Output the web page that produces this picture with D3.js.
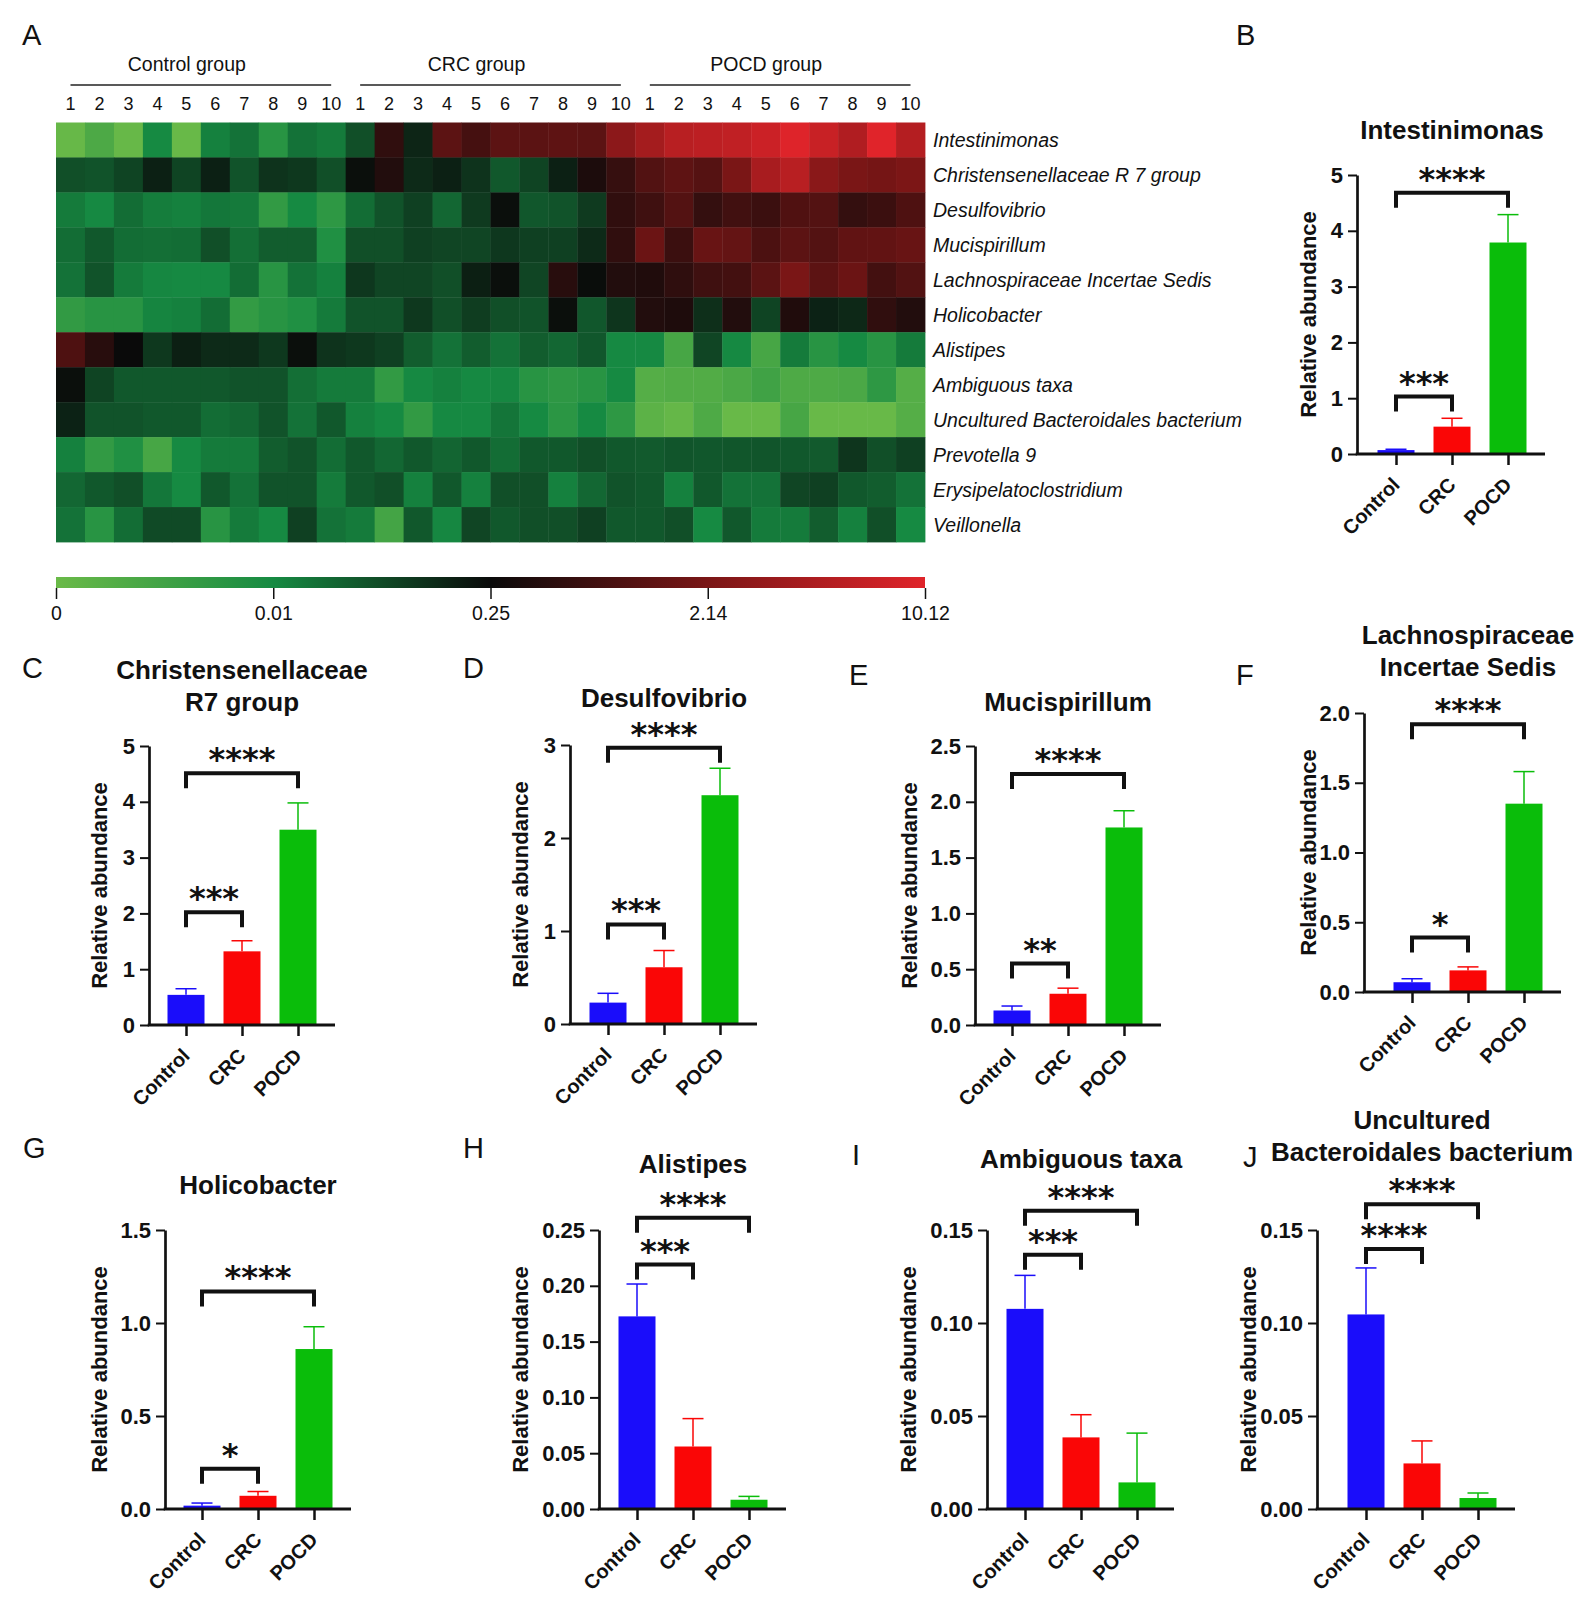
<!DOCTYPE html>
<html>
<head>
<meta charset="utf-8">
<script src="https://cdn.jsdelivr.net/npm/d3@7"></script>
<style>
  body { margin: 0; background: #fff; }
  text { font-family: "Liberation Sans", Arial, sans-serif; fill: #111; }
</style>
</head>
<body>
<script>
'use strict';

// ---- heatmap data (panel A) ----
const taxa = [
  "Intestinimonas", "Christensenellaceae R 7 group", "Desulfovibrio", "Mucispirillum",
  "Lachnospiraceae Incertae Sedis", "Holicobacter", "Alistipes", "Ambiguous taxa",
  "Uncultured Bacteroidales bacterium", "Prevotella 9", "Erysipelatoclostridium", "Veillonella"
];
const groupNames = ["Control group", "CRC group", "POCD group"];
const sampleLabels = ["1", "2", "3", "4", "5", "6", "7", "8", "9", "10"];

// relative abundance per sample: Control 1-10, CRC 1-10, POCD 1-10
const heatValues = [
  [0.0004, 0.0035, 0.0004, 0.01, 0.0002, 0.027, 0.055, 0.0079, 0.055, 0.038,
   0.12, 0.89, 0.2, 1.64, 1.24, 1.64, 1.61, 1.67, 1.64, 3.55,
   5.4, 7.0, 7.3, 7.6, 8.5, 10.0, 8.25, 6.36, 10.1, 6.68],
  [0.12, 0.114, 0.142, 0.208, 0.142, 0.208, 0.114, 0.173, 0.163, 0.12,
   0.24, 0.65, 0.19, 0.208, 0.173, 0.104, 0.142, 0.208, 0.55, 1.0,
   1.46, 1.67, 1.52, 2.14, 5.74, 7.0, 3.39, 2.14, 2.05, 2.3],
  [0.038, 0.011, 0.065, 0.035, 0.027, 0.045, 0.04, 0.0067, 0.01, 0.0071,
   0.065, 0.114, 0.149, 0.076, 0.16, 0.24, 0.106, 0.114, 0.16, 0.89,
   1.15, 1.49, 0.96, 1.18, 1.08, 1.43, 1.49, 0.96, 1.08, 1.4],
  [0.065, 0.104, 0.065, 0.06, 0.065, 0.12, 0.06, 0.094, 0.094, 0.0088,
   0.12, 0.12, 0.149, 0.14, 0.14, 0.165, 0.149, 0.149, 0.19, 0.89,
   1.89, 1.08, 1.83, 1.77, 1.37, 1.64, 1.49, 1.71, 1.74, 1.83],
  [0.055, 0.114, 0.038, 0.015, 0.011, 0.011, 0.065, 0.0079, 0.055, 0.027,
   0.165, 0.14, 0.14, 0.12, 0.21, 0.24, 0.14, 0.75, 0.245, 0.65,
   0.62, 0.87, 1.15, 1.21, 1.61, 2.14, 1.64, 1.89, 1.21, 1.46],
  [0.0067, 0.0079, 0.0079, 0.02, 0.027, 0.065, 0.0065, 0.0079, 0.0088, 0.038,
   0.114, 0.114, 0.163, 0.12, 0.155, 0.12, 0.114, 0.24, 0.106, 0.17,
   0.65, 0.59, 0.18, 0.65, 0.142, 0.62, 0.205, 0.194, 0.89, 0.65],
  [1.4, 0.75, 0.25, 0.163, 0.21, 0.19, 0.19, 0.163, 0.24, 0.173,
   0.163, 0.149, 0.094, 0.055, 0.094, 0.055, 0.094, 0.076, 0.106, 0.012,
   0.012, 0.0042, 0.14, 0.011, 0.0042, 0.038, 0.0079, 0.01, 0.0079, 0.038],
  [0.24, 0.142, 0.104, 0.104, 0.104, 0.104, 0.114, 0.114, 0.06, 0.038,
   0.038, 0.0067, 0.011, 0.027, 0.011, 0.015, 0.0079, 0.0072, 0.0079, 0.01,
   0.0025, 0.0029, 0.0029, 0.0037, 0.005, 0.0033, 0.0033, 0.0037, 0.0071, 0.0025],
  [0.205, 0.114, 0.114, 0.104, 0.104, 0.065, 0.076, 0.114, 0.055, 0.104,
   0.027, 0.01, 0.0067, 0.012, 0.011, 0.05, 0.01, 0.0075, 0.01, 0.0071,
   0.0017, 0.0006, 0.0033, 0.0002, 0.0002, 0.0042, 0.0002, 0.0002, 0.0002, 0.0025],
  [0.027, 0.0067, 0.0088, 0.0042, 0.01, 0.038, 0.038, 0.094, 0.114, 0.065,
   0.104, 0.076, 0.104, 0.08, 0.104, 0.065, 0.104, 0.104, 0.12, 0.104,
   0.1, 0.11, 0.105, 0.108, 0.11, 0.104, 0.1, 0.17, 0.12, 0.149],
  [0.076, 0.104, 0.12, 0.045, 0.01, 0.104, 0.055, 0.114, 0.114, 0.038,
   0.104, 0.12, 0.027, 0.104, 0.027, 0.12, 0.12, 0.027, 0.076, 0.114,
   0.104, 0.027, 0.104, 0.055, 0.055, 0.14, 0.149, 0.104, 0.094, 0.055],
  [0.055, 0.0079, 0.065, 0.13, 0.13, 0.0079, 0.038, 0.01, 0.149, 0.055,
   0.038, 0.0045, 0.104, 0.015, 0.14, 0.104, 0.12, 0.12, 0.149, 0.104,
   0.104, 0.12, 0.01, 0.104, 0.038, 0.038, 0.094, 0.027, 0.12, 0.01]
];

// colour key
const legendValues = [0, 0.01, 0.25, 2.14, 10.12];
const legendLabels = ["0", "0.01", "0.25", "2.14", "10.12"];
const legendColors = ["#6aba48", "#168a42", "#0a0a0a", "#7a1616", "#e0242a"];

// ---- bar chart data (panels B-J) ----
const groups = ["Control", "CRC", "POCD"];
const barColors = ["#1a0dfa", "#fa0606", "#0abd0a"];
const barTitles = [
  ["Intestinimonas"], ["Christensenellaceae", "R7 group"], ["Desulfovibrio"],
  ["Mucispirillum"], ["Lachnospiraceae", "Incertae Sedis"], ["Holicobacter"],
  ["Alistipes"], ["Ambiguous taxa"], ["Uncultured", "Bacteroidales bacterium"]
];
const barMeans = [
  [0.07, 0.49, 3.79], [0.54, 1.32, 3.5], [0.23, 0.61, 2.46],
  [0.13, 0.28, 1.77], [0.07, 0.155, 1.35], [0.018, 0.071, 0.86],
  [0.1726, 0.056, 0.0083], [0.1076, 0.0385, 0.0143], [0.1046, 0.0245, 0.0059]
];
const barSems = [
  [0.015, 0.15, 0.5], [0.11, 0.19, 0.48], [0.1, 0.18, 0.29],
  [0.04, 0.05, 0.15], [0.025, 0.025, 0.23], [0.014, 0.023, 0.12],
  [0.029, 0.025, 0.003], [0.018, 0.0122, 0.0265], [0.025, 0.0121, 0.0027]
];
const yMaxes = [5, 5, 3, 2.5, 2, 1.5, 0.25, 0.15, 0.15];
const ySteps = [1, 1, 1, 0.5, 0.5, 0.5, 0.05, 0.05, 0.05];
const yFormats = ["d", "d", "d", ".1f", ".1f", ".1f", ".2f", ".2f", ".2f"];
// significance brackets: [label, level] for Control-CRC and Control-POCD
const sigCrc = [["***", 1.03], ["***", 2.02], ["***", 1.07], ["**", 0.55], ["*", 0.39],
                ["*", 0.217], ["***", 0.219], ["***", 0.1367], ["****", 0.1398]];
const sigPocd = [["****", 4.68], ["****", 4.51], ["****", 2.97], ["****", 2.25], ["****", 1.92],
                 ["****", 1.17], ["****", 0.261], ["****", 0.1604], ["****", 0.1639]];

// where each bar panel sits on the page
const panelLayout = [
  { letter: "B", lx: 1236, ly: 45, ax: 1357, y0: 454, pad: 39, titleY: 130, ylab: 49 },
  { letter: "C", lx: 22, ly: 678, ax: 149, y0: 1025, pad: 37, titleY: 702, ylab: 50 },
  { letter: "D", lx: 463, ly: 678, ax: 570, y0: 1024, pad: 38, titleY: 698, ylab: 50 },
  { letter: "E", lx: 849, ly: 685, ax: 975, y0: 1025, pad: 37, titleY: 702, ylab: 66 },
  { letter: "F", lx: 1236, ly: 685, ax: 1364, y0: 992, pad: 48, titleY: 667, ylab: 56 },
  { letter: "G", lx: 23, ly: 1158, ax: 165, y0: 1509, pad: 37, titleY: 1185, ylab: 66 },
  { letter: "H", lx: 463, ly: 1158, ax: 599, y0: 1509, pad: 38, titleY: 1164, ylab: 79 },
  { letter: "I", lx: 852, ly: 1165, ax: 987, y0: 1509, pad: 38, titleY: 1159, ylab: 79 },
  { letter: "J", lx: 1243, ly: 1167, ax: 1317, y0: 1509, pad: 49, titleY: 1152, ylab: 69 }
];

const svg = d3.select('body').append('svg')
  .attr('width', 1592)
  .attr('height', 1600);

drawHeatmap();
panelLayout.forEach((p, i) => drawBarPanel(p, i));

function drawHeatmap() {
  const left = 56, right = 925, top = 122.5, bottom = 542;
  const nCols = groupNames.length * sampleLabels.length;

  const xCell = d3.scaleBand().domain(d3.range(nCols)).range([left, right]);
  const yCell = d3.scaleBand().domain(taxa).range([top, bottom]);
  const color = d3.scaleLinear().domain(legendValues).range(legendColors).clamp(true);
  const bw = xCell.bandwidth();

  svg.append('text').attr('x', 22).attr('y', 45)
    .style('font-size', '29px').text('A');

  // cells
  svg.append('g').selectAll('g')
    .data(heatValues)
    .join('g')
    .each(function (row, r) {
      d3.select(this).selectAll('rect')
        .data(row)
        .join('rect')
        .attr('x', (d, c) => xCell(c))
        .attr('y', yCell(taxa[r]))
        .attr('width', bw + 0.4)
        .attr('height', yCell.bandwidth() + 0.4)
        .attr('fill', d => color(d));
    });

  // sample numbers above the columns
  svg.append('g').selectAll('text')
    .data(d3.range(nCols))
    .join('text')
    .attr('x', c => xCell(c) + bw / 2)
    .attr('y', 110)
    .attr('text-anchor', 'middle')
    .style('font-size', '18px')
    .text(c => sampleLabels[c % sampleLabels.length]);

  // group lines and names
  groupNames.forEach((g, i) => {
    const x1 = xCell(i * 10) + bw / 2;
    const x2 = xCell(i * 10 + 9) + bw / 2;
    svg.append('line')
      .attr('x1', x1).attr('x2', x2).attr('y1', 85).attr('y2', 85)
      .attr('stroke', '#222').attr('stroke-width', 1.5);
    svg.append('text')
      .attr('x', (x1 + x2) / 2 - 14).attr('y', 71)
      .attr('text-anchor', 'middle')
      .style('font-size', '19.5px')
      .text(g);
  });

  // taxon names on the right
  svg.append('g').selectAll('text')
    .data(taxa)
    .join('text')
    .attr('x', 933)
    .attr('y', d => yCell(d) + yCell.bandwidth() / 2 + 7)
    .style('font-size', '19.5px')
    .style('font-style', 'italic')
    .text(d => d);

  // colour bar
  const grad = svg.append('defs').append('linearGradient').attr('id', 'keyGrad');
  legendColors.forEach((c, i) => {
    grad.append('stop')
      .attr('offset', (i / (legendColors.length - 1) * 100) + '%')
      .attr('stop-color', c);
  });
  svg.append('rect')
    .attr('x', left).attr('y', 577).attr('width', right - left).attr('height', 11)
    .attr('fill', 'url(#keyGrad)');

  const keyScale = d3.scalePoint().domain(legendLabels).range([left, right]);
  const keyAxis = d3.axisBottom(keyScale).tickSize(11).tickSizeOuter(0).tickPadding(7);
  const gKey = svg.append('g').attr('transform', 'translate(0, 588)').call(keyAxis);
  gKey.select('.domain').remove();
  gKey.selectAll('.tick line').attr('stroke', '#111').attr('stroke-width', 1.5);
  gKey.selectAll('.tick text')
    .style('font-family', '"Liberation Sans", Arial, sans-serif')
    .style('font-size', '19.5px').attr('fill', '#111');
}

function drawBarPanel(p, i) {
  const axisH = 279;
  const barW = 37;
  const g = svg.append('g');

  const y = d3.scaleLinear().domain([0, yMaxes[i]]).range([p.y0, p.y0 - axisH]);
  const x = d3.scalePoint().domain(groups).range([p.ax + p.pad, p.ax + p.pad + 112]);
  const xEnd = p.ax + p.pad + 112 + 37;

  // panel letter
  g.append('text').attr('x', p.lx).attr('y', p.ly)
    .style('font-size', '29px').text(p.letter);

  // title, centred over the middle bar
  const lines = barTitles[i];
  lines.forEach((t, k) => {
    g.append('text')
      .attr('x', x("CRC"))
      .attr('y', p.titleY + 9 - (lines.length - 1 - k) * 32)
      .attr('text-anchor', 'middle')
      .style('font-size', '26px').style('font-weight', 'bold')
      .text(t);
  });

  // bars
  g.selectAll('.bar')
    .data(groups)
    .join('rect')
    .attr('x', d => x(d) - barW / 2)
    .attr('y', (d, k) => y(barMeans[i][k]))
    .attr('width', barW)
    .attr('height', (d, k) => p.y0 - y(barMeans[i][k]))
    .attr('fill', (d, k) => barColors[k]);

  // upper error bars
  groups.forEach((d, k) => {
    const top = y(barMeans[i][k] + barSems[i][k]);
    g.append('line')
      .attr('x1', x(d)).attr('x2', x(d))
      .attr('y1', y(barMeans[i][k])).attr('y2', top)
      .attr('stroke', barColors[k]).attr('stroke-width', 1.5);
    g.append('line')
      .attr('x1', x(d) - 10.5).attr('x2', x(d) + 10.5)
      .attr('y1', top).attr('y2', top)
      .attr('stroke', barColors[k]).attr('stroke-width', 1.5);
  });

  // y axis
  const yAxis = d3.axisLeft(y)
    .tickValues(d3.range(0, yMaxes[i] + ySteps[i] / 2, ySteps[i]))
    .tickFormat(d3.format(yFormats[i]))
    .tickSize(9).tickSizeOuter(0).tickPadding(5);
  const gy = g.append('g').attr('transform', `translate(${p.ax}, 0)`).call(yAxis);
  gy.select('.domain').attr('stroke', '#111').attr('stroke-width', 2.7);
  gy.selectAll('.tick line').attr('stroke', '#111').attr('stroke-width', 2);
  gy.selectAll('.tick text')
    .style('font-family', '"Liberation Sans", Arial, sans-serif')
    .style('font-size', '22px').style('font-weight', 'bold').attr('fill', '#111');

  // x axis line and ticks
  g.append('line')
    .attr('x1', p.ax - 1.3).attr('x2', xEnd)
    .attr('y1', p.y0).attr('y2', p.y0)
    .attr('stroke', '#111').attr('stroke-width', 3);
  const xAxis = d3.axisBottom(x).tickSize(11).tickSizeOuter(0).tickFormat('');
  const gx = g.append('g').attr('transform', `translate(0, ${p.y0})`).call(xAxis);
  gx.select('.domain').remove();
  gx.selectAll('.tick line').attr('stroke', '#111').attr('stroke-width', 2.5);

  // rotated group labels
  g.selectAll('.xlab')
    .data(groups)
    .join('text')
    .attr('transform', d => `translate(${x(d) + 5}, ${p.y0 + 32}) rotate(-45)`)
    .attr('text-anchor', 'end')
    .style('font-size', '20px').style('font-weight', 'bold')
    .text(d => d);

  // y label
  g.append('text')
    .attr('transform', `translate(${p.ax - p.ylab}, ${p.y0 - axisH / 2}) rotate(-90)`)
    .attr('text-anchor', 'middle')
    .attr('dy', '0.35em')
    .style('font-size', '22px').style('font-weight', 'bold')
    .text('Relative abundance');

  // significance brackets
  [[sigCrc[i], "CRC"], [sigPocd[i], "POCD"]].forEach(([sig, target]) => {
    const x1 = x("Control"), x2 = x(target), yb = y(sig[1]);
    g.append('path')
      .attr('d', `M${x1},${yb + 15}V${yb}H${x2}V${yb + 15}`)
      .attr('fill', 'none').attr('stroke', '#111').attr('stroke-width', 4);
    g.append('text')
      .attr('x', (x1 + x2) / 2).attr('y', yb - 3)
      .attr('text-anchor', 'middle')
      .style('font-family', '"DejaVu Sans", sans-serif')
      .style('font-size', '32px').style('font-weight', 'bold')
      .text(sig[0]);
  });
}
</script>
</body>
</html>
